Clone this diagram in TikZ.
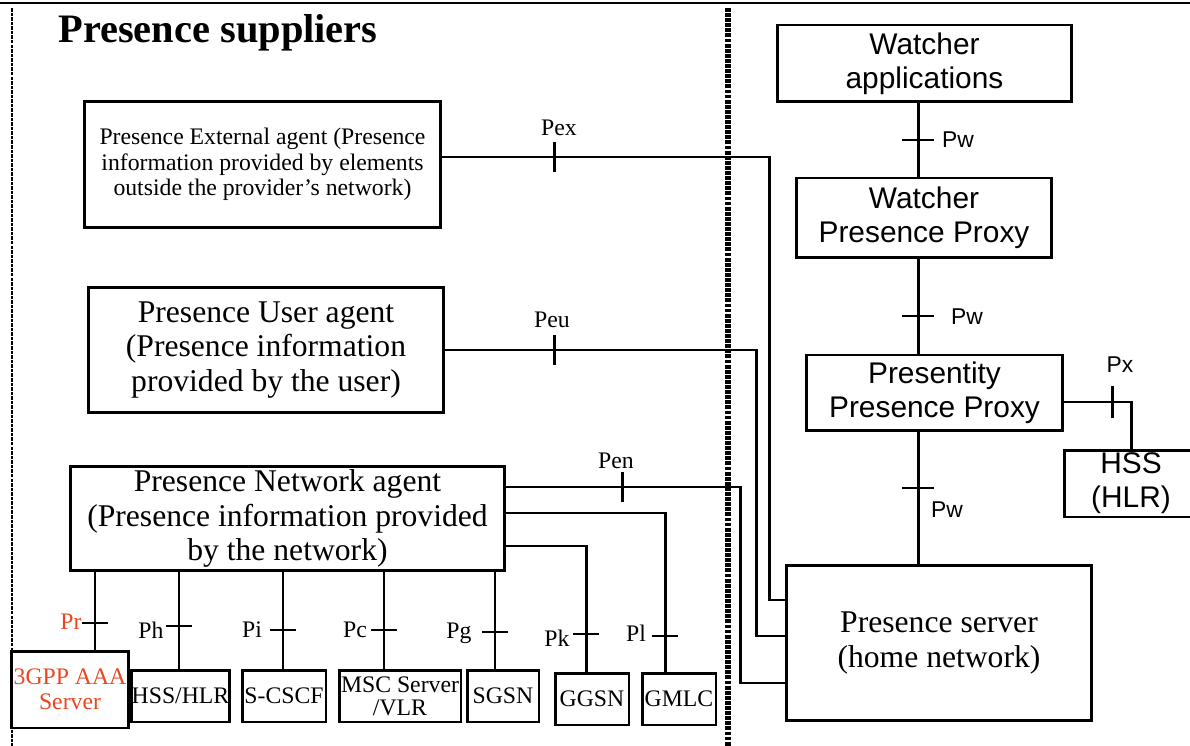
\documentclass[tikz,border=0pt]{standalone}
\usepackage{fontspec}
\setmainfont{Liberation Serif}
\setsansfont{Liberation Sans}
\definecolor{aaared}{RGB}{235,70,30}

\begin{document}
\begin{tikzpicture}[x=0.02cm,y=-0.02cm,line width=1.7pt,
    box/.style={draw,inner sep=0pt,align=center},
    bigser/.style={font=\fontsize{18}{19.5}\selectfont},
    smser/.style={font=\fontsize{13.5}{14.5}\selectfont},
    bigsan/.style={font=\sffamily\fontsize{17}{19.5}\selectfont},
    lab/.style={font=\fontsize{13.5}{15}\selectfont,inner sep=0pt},
    sanlab/.style={font=\sffamily\fontsize{13}{15}\selectfont,inner sep=0pt}]
    \useasboundingbox (0,0) rectangle (1190,746);
    % page rule and the two borders
    \draw [line width=0.6pt] (0,3) -- (1190,3);
    \draw [line width=1.3pt,dash pattern=on 2pt off 0.6pt] (12,8) -- (12,746);
    \draw [line width=3.4pt,dash pattern=on 2.2pt off 0.7pt] (728,8) -- (728,746);
    \node [font=\fontsize{23}{27}\selectfont\bfseries] (title) at (218,33) {Presence suppliers};

    % home network side
    \node [box,bigsan,minimum width=5.9cm,minimum height=1.54cm] (wapp) at (924.5,63.5) {Watcher\\applications};
    \node [box,bigsan,minimum width=5.12cm,minimum height=1.6cm] (wpp) at (924,218) {Watcher\\Presence Proxy};
    \node [box,bigsan,minimum width=5.14cm,minimum height=1.52cm] (ppp) at (934.5,393) {Presentity\\Presence Proxy};
    \node [box,bigsan,minimum width=2.68cm,minimum height=1.34cm] (hss) at (1131,483.5) {HSS\\(HLR)};
    \node [box,bigser,minimum width=6.12cm,minimum height=3.12cm] (srv) at (939,643) {Presence server\\(home network)};

    % suppliers side
    \node [box,smser,minimum width=7.14cm,minimum height=2.54cm] (ext) at (262.5,164.5) {Presence External agent (Presence\\information provided by elements\\outside the provider's network)};
    \node [box,bigser,minimum width=7.12cm,minimum height=2.52cm] (usr) at (266,350) {Presence User agent\\(Presence information\\provided by the user)};
    \node [box,bigser,minimum width=8.7cm,minimum height=2.1cm] (net) at (287.5,518.5) {Presence Network agent\\(Presence information provided\\by the network)};
    \node [box,smser,text=aaared,minimum width=2.36cm,minimum height=1.54cm] (aaa) at (70,689.5) {3GPP AAA\\Server};
    \node [box,smser,minimum width=1.94cm,minimum height=1.04cm] (hlr) at (180.5,696) {HSS/HLR};
    \node [box,smser,minimum width=1.68cm,minimum height=1.04cm] (cscf) at (284,696) {S-CSCF};
    \node [box,font=\fontsize{13.5}{13.2}\selectfont,minimum width=2.44cm,minimum height=1.04cm] (msc) at (400,696) {MSC Server\\/VLR};
    \node [box,smser,minimum width=1.44cm,minimum height=1.04cm] (sgsn) at (503,696) {SGSN};
    \node [box,smser,minimum width=1.48cm,minimum height=1.04cm] (ggsn) at (592,699) {GGSN};
    \node [box,smser,minimum width=1.48cm,minimum height=1.04cm] (gmlc) at (679,699) {GMLC};

    % reference points
    \coordinate (spine) at (918,0);
    \coordinate (px) at (1112,402);
    \coordinate (pex) at (554,157);
    \coordinate (exc) at (769,600);
    \coordinate (peu) at (554,350);
    \coordinate (euc) at (756,636);
    \coordinate (pen) at (622,487);
    \coordinate (enc) at (740,683);
    \coordinate (lrow) at (665,513);
    \coordinate (krow) at (586,546);
    \coordinate (pl) at (665,636);
    \coordinate (pk) at (586,634);
    \coordinate (pg) at (495,632);
    \coordinate (pc) at (384,630);
    \coordinate (pi) at (283,630);
    \coordinate (ph) at (179,626);
    \coordinate (pr) at (95,623);

    % Pw chain
    \draw (wapp.south -| spine) -- (wpp.north -| spine);
    \draw (wpp.south -| spine) -- (ppp.north -| spine);
    \draw (ppp.south -| spine) -- (srv.north -| spine);
    \foreach \y in {140,316,488}
      \draw (902,\y) -- (934,\y);
    \node [sanlab] (lpw1) at (958,140) {Pw};
    \node [sanlab] (lpw2) at (967,317) {Pw};
    \node [sanlab] (lpw3) at (947,510) {Pw};

    % Px
    \draw (ppp.east |- px) -| (hss.north);
    \draw (px) ++(0,-16) -- ++(0,32);
    \node [sanlab] (lpx) at (1120,365) {Px};

    % agents to the presence server
    \draw (ext.east |- pex) -| (exc) -- (srv.west |- exc);
    \draw (usr.east |- peu) -| (euc) -- (srv.west |- euc);
    \draw (net.east |- pen) -| (enc) -- (srv.west |- enc);
    \foreach \c in {pex,peu,pen}
      \draw (\c) ++(0,-15) -- ++(0,30);
    \node [lab] (lpex) at (559,128) {Pex};
    \node [lab] (lpeu) at (552,320) {Peu};
    \node [lab] (lpen) at (616,461) {Pen};

    % network elements
    \draw (net.east |- lrow) -| (gmlc.north -| lrow);
    \draw (net.east |- krow) -| (ggsn.north -| krow);
    \foreach \c/\b in {pg/sgsn,pc/msc,pi/cscf,ph/hlr,pr/aaa}
      \draw (net.south -| \c) -- (\b.north -| \c);
    \foreach \c in {pr,ph,pi,pc,pg,pk,pl}
      \draw (\c) ++(-13,0) -- ++(26,0);
    \node [lab,text=aaared] (lpr) at (71,622) {Pr};
    \node [lab] (lph) at (151,630) {Ph};
    \node [lab] (lpi) at (252,630) {Pi};
    \node [lab] (lpc) at (355,630) {Pc};
    \node [lab] (lpg) at (459,633) {Pg};
    \node [lab] (lpk) at (557,638) {Pk};
    \node [lab] (lpl) at (636,633) {Pl};
\end{tikzpicture}
\end{document}
